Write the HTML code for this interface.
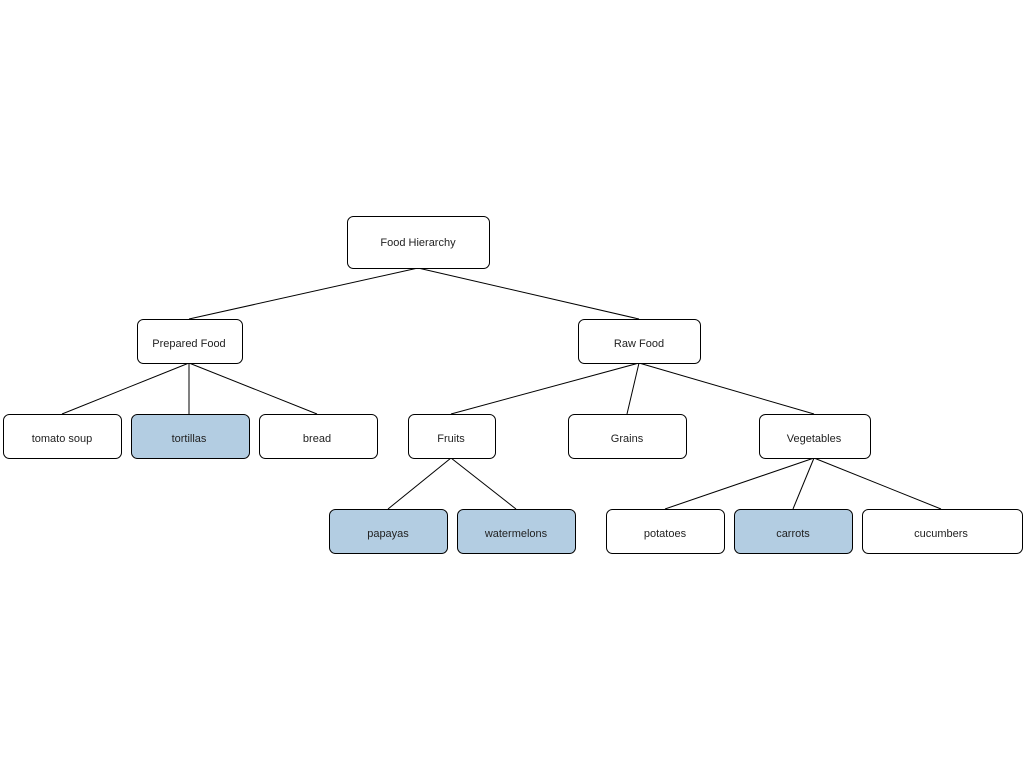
<!DOCTYPE html>
<html><head><meta charset="utf-8"><style>
html,body{margin:0;padding:0;background:#fff;}
svg{display:block}
text{font-family:"Liberation Sans",sans-serif;font-size:11px;fill:#222;text-anchor:middle;dominant-baseline:central}
</style></head><body>
<svg width="1024" height="768" viewBox="0 0 1024 768">
<g stroke="#000" stroke-width="1" fill="none">
<line x1="418" y1="268" x2="189" y2="319"/>
<line x1="418" y1="268" x2="639" y2="319"/>
<line x1="189" y1="363" x2="62" y2="414"/>
<line x1="189" y1="363" x2="189" y2="414"/>
<line x1="189" y1="363" x2="317" y2="414"/>
<line x1="639" y1="363" x2="451" y2="414"/>
<line x1="639" y1="363" x2="627" y2="414"/>
<line x1="639" y1="363" x2="814" y2="414"/>
<line x1="451" y1="458" x2="388" y2="509"/>
<line x1="451" y1="458" x2="516" y2="509"/>
<line x1="814" y1="458" x2="665" y2="509"/>
<line x1="814" y1="458" x2="793" y2="509"/>
<line x1="814" y1="458" x2="941" y2="509"/>
</g>
<g stroke="#000" stroke-width="1">
<rect x="347.5" y="216.5" width="142" height="52" rx="6" fill="#fff"/>
<rect x="137.5" y="319.5" width="105" height="44" rx="6" fill="#fff"/>
<rect x="578.5" y="319.5" width="122" height="44" rx="6" fill="#fff"/>
<rect x="3.5" y="414.5" width="118" height="44" rx="6" fill="#fff"/>
<rect x="131.5" y="414.5" width="118" height="44" rx="6" fill="#b3cde2"/>
<rect x="259.5" y="414.5" width="118" height="44" rx="6" fill="#fff"/>
<rect x="408.5" y="414.5" width="87" height="44" rx="6" fill="#fff"/>
<rect x="568.5" y="414.5" width="118" height="44" rx="6" fill="#fff"/>
<rect x="759.5" y="414.5" width="111" height="44" rx="6" fill="#fff"/>
<rect x="329.5" y="509.5" width="118" height="44" rx="6" fill="#b3cde2"/>
<rect x="457.5" y="509.5" width="118" height="44" rx="6" fill="#b3cde2"/>
<rect x="606.5" y="509.5" width="118" height="44" rx="6" fill="#fff"/>
<rect x="734.5" y="509.5" width="118" height="44" rx="6" fill="#b3cde2"/>
<rect x="862.5" y="509.5" width="160" height="44" rx="6" fill="#fff"/>
</g>
<text x="418" y="243">Food Hierarchy</text>
<text x="189" y="344">Prepared Food</text>
<text x="639" y="344">Raw Food</text>
<text x="62" y="439">tomato soup</text>
<text x="189" y="439">tortillas</text>
<text x="317" y="439">bread</text>
<text x="451" y="439">Fruits</text>
<text x="627" y="439">Grains</text>
<text x="814" y="439">Vegetables</text>
<text x="388" y="534">papayas</text>
<text x="516" y="534">watermelons</text>
<text x="665" y="534">potatoes</text>
<text x="793" y="534">carrots</text>
<text x="941" y="534">cucumbers</text>
</svg>
</body></html>
